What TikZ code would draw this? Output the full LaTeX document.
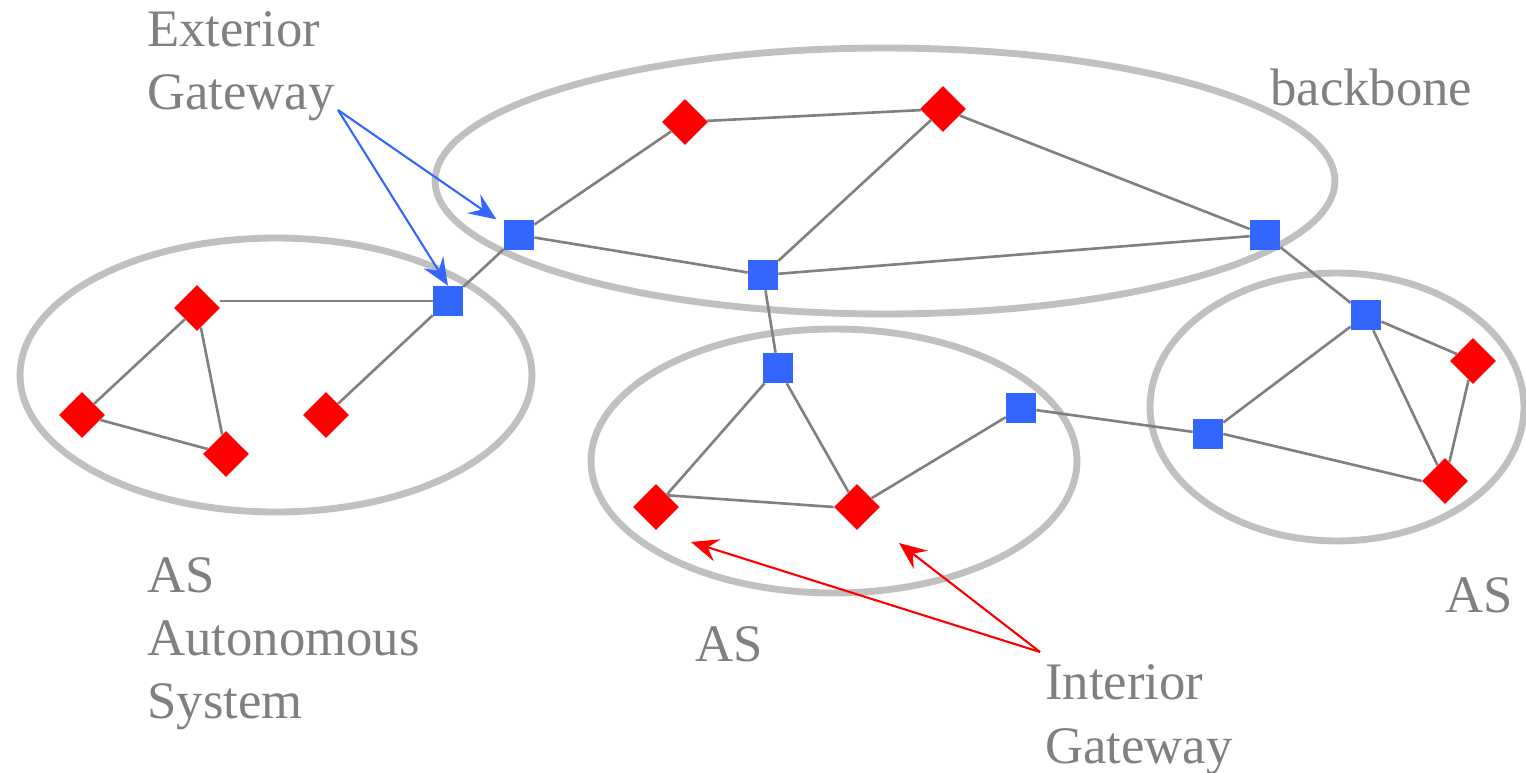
\documentclass[tikz,border=0pt]{standalone}
\usepackage{fontspec}
\setmainfont{Liberation Serif}
\usetikzlibrary{shapes.geometric,arrows.meta}
\definecolor{asgray}{RGB}{192,192,192}
\definecolor{linkgray}{RGB}{128,128,128}
\definecolor{gwblue}{RGB}{51,102,255}
\begin{document}
\begin{tikzpicture}[x=0.02cm, y=-0.02cm,
    asring/.style={draw=asgray, line width=3.9pt},
    link/.style={draw=linkgray, line width=1.5pt},
    extgw/.style={rectangle, fill=gwblue, minimum size=0.6cm, inner sep=0pt},
    intgw/.style={diamond, fill=red, minimum size=0.92cm, inner sep=0pt},
    note/.style={text=linkgray, font=\fontsize{30}{36}\selectfont, align=left, anchor=base west, inner sep=0pt},
    pointer/.style={-{Stealth[length=0.55cm, width=0.46cm, inset=0.2cm]}, line width=1.2pt}]
    \useasboundingbox (0,0) rectangle (1526,773);

    % Autonomous systems and backbone
    \draw[asring] (885,181) ellipse [x radius=9.0cm, y radius=2.66cm];
    \draw[asring] (276,375) ellipse [x radius=5.12cm, y radius=2.74cm];
    \draw[asring] (834,461) ellipse [x radius=4.86cm, y radius=2.64cm];
    \draw[asring] (1337,407) ellipse [x radius=3.74cm, y radius=2.68cm];

    % Exterior gateways
    \node[extgw] (b1) at (519,235) {};
    \node[extgw] (b2) at (448,301) {};
    \node[extgw] (b3) at (763,275) {};
    \node[extgw] (b4) at (1265,235) {};
    \node[extgw] (b5) at (778,368) {};
    \node[extgw] (b6) at (1021,408) {};
    \node[extgw] (b7) at (1366,315) {};
    \node[extgw] (b8) at (1208,434) {};

    % Interior gateways
    \node[intgw] (r1) at (685,122) {};
    \node[intgw] (r2) at (943,109) {};
    \node[intgw] (r3) at (197,308) {};
    \node[intgw] (r4) at (82,415) {};
    \node[intgw] (r5) at (226,454) {};
    \node[intgw] (r6) at (326,415) {};
    \node[intgw] (r7) at (656,507) {};
    \node[intgw] (r8) at (857,507) {};
    \node[intgw] (r9) at (1473,361) {};
    \node[intgw] (r10) at (1445,481) {};

    % Links
    \foreach \a/\b in {r1/b1, r1/r2, r2/b3, r2/b4, b1/b3, b3/b4, b1/b2,
                       b2/r6, r3/r4, r3/r5, r4/r5, b3/b5, b5/r7,
                       b5/r8, r8/b6, b6/b8, b4/b7, b7/b8,
                       b7/r9, b7/r10, r9/r10} {
        \draw[link] (\a) -- (\b);
    }
    \draw[link] (b2) -- (r3.east |- b2);
    \draw[link] (r7.north east) -- (r8.west);
    \draw[link] (b8.east) -- (r10.west);

    % Labels
    \node[note] (ext) at (147,110) {Exterior\\Gateway};
    \node[note] (bb) at (1270,106) {backbone};
    \node[note] (as1) at (147,719) {AS\\Autonomous\\System};
    \node[note] (as2) at (695,662) {AS};
    \node[note] (as3) at (1445,613) {AS};
    \node[note] (int) at (1045,763) {Interior\\Gateway};

    % Pointers
    \coordinate (ep) at (338,110);
    \draw[pointer, gwblue, shorten >=5pt] (ep) -- (b1);
    \draw[pointer, gwblue] (ep) -- (b2.north);
    \coordinate (ip) at (1040,652);
    \coordinate (it1) at (691,542);
    \coordinate (it2) at (899,543);
    \draw[pointer, red] (ip) -- (it1);
    \draw[pointer, red] (ip) -- (it2);
\end{tikzpicture}
\end{document}
